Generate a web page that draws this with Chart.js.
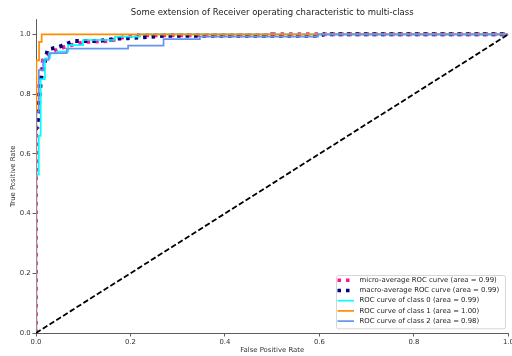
<!DOCTYPE html>
<html>
<head>
<meta charset="utf-8">
<script src="https://cdn.jsdelivr.net/npm/chart.js@4/dist/chart.umd.min.js"></script>
<style>
  html, body { margin: 0; padding: 0; background: #fff; }
  #wrap { width: 512px; height: 356px; position: relative; }
</style>
</head>
<body>
<div id="wrap"><canvas id="roc" width="512" height="356"></canvas></div>
<script>
// ROC curves: false positive rate / true positive rate pairs
const microFpr = [0, 0, 0.003, 0.007, 0.015, 0.03, 0.05, 0.075, 0.107, 0.157, 0.188, 0.213, 0.5, 0.5, 1.0];
const microTpr = [0, 0.69, 0.69, 0.83, 0.914, 0.936, 0.953, 0.964, 0.975, 0.978, 0.992, 0.997, 0.997, 1.0, 1.0];

const macroFpr = [0, 0.005, 0.008, 0.012, 0.017, 0.025, 0.035, 0.052, 0.068, 0.083, 0.135, 0.174, 0.195, 0.27, 0.6, 0.61, 1.0];
const macroTpr = [0.68, 0.724, 0.808, 0.864, 0.897, 0.95, 0.953, 0.96, 0.97, 0.978, 0.978, 0.986, 0.987, 0.995, 0.995, 1.0, 1.0];

const class0Fpr = [0, 0, 0.006, 0.006, 0.01, 0.01, 0.019, 0.019, 0.0296, 0.0296, 0.044, 0.044, 0.068, 0.068, 0.0995, 0.0995, 0.167, 0.167, 0.22, 0.22, 1.0];
const class0Tpr = [0, 0.53, 0.53, 0.66, 0.66, 0.85, 0.85, 0.92, 0.92, 0.936, 0.936, 0.942, 0.942, 0.964, 0.964, 0.981, 0.981, 0.992, 0.992, 1.0, 1.0];

const class1Fpr = [0, 0, 0.0015, 0.0015, 0.0065, 0.0065, 0.012, 0.012, 1.0];
const class1Tpr = [0, 0.72, 0.72, 0.913, 0.913, 0.975, 0.975, 1.0, 1.0];

const class2Fpr = [0, 0, 0.006, 0.006, 0.015, 0.015, 0.027, 0.027, 0.065, 0.065, 0.195, 0.195, 0.27, 0.27, 0.347, 0.347, 0.597, 0.597, 1.0];
const class2Tpr = [0, 0.74, 0.74, 0.88, 0.88, 0.914, 0.914, 0.937, 0.937, 0.952, 0.952, 0.962, 0.962, 0.984, 0.984, 0.992, 0.992, 1.0, 1.0];

const chanceFpr = [0, 1];
const chanceTpr = [0, 1];

const curveNames = ['micro-average ROC curve', 'macro-average ROC curve',
  'ROC curve of class 0', 'ROC curve of class 1', 'ROC curve of class 2'];
const rocAreas = [0.99, 0.99, 0.99, 1.00, 0.98];

const xTicks = [0, 0.2, 0.4, 0.6, 0.8, 1.0];
const yTicks = [0, 0.2, 0.4, 0.6, 0.8, 1.0];

const chartTitle = 'Some extension of Receiver operating characteristic to multi-class';
const FONT = '"DejaVu Sans", "Liberation Sans", sans-serif';
const INK = '#333';
const SMALL = 6.9;

function toPoints(xs, ys) { return xs.map((x, i) => ({ x: x, y: ys[i] })); }

const dotted = { borderWidth: 4, borderDash: [3.5, 5], borderCapStyle: 'butt' };
const solid = { borderWidth: 1.7, borderDash: [] };

const datasets = [
  Object.assign({ label: curveNames[0] + ' (area = ' + rocAreas[0].toFixed(2) + ')', data: toPoints(microFpr, microTpr), borderColor: '#ff1493', order: 5 }, dotted),
  Object.assign({ label: curveNames[1] + ' (area = ' + rocAreas[1].toFixed(2) + ')', data: toPoints(macroFpr, macroTpr), borderColor: '#000080', order: 4 }, dotted),
  Object.assign({ label: curveNames[2] + ' (area = ' + rocAreas[2].toFixed(2) + ')', data: toPoints(class0Fpr, class0Tpr), borderColor: '#00ffff', order: 3 }, solid),
  Object.assign({ label: curveNames[3] + ' (area = ' + rocAreas[3].toFixed(2) + ')', data: toPoints(class1Fpr, class1Tpr), borderColor: '#ff8c00', order: 2 }, solid),
  Object.assign({ label: curveNames[4] + ' (area = ' + rocAreas[4].toFixed(2) + ')', data: toPoints(class2Fpr, class2Tpr), borderColor: '#6495ed', order: 1 }, solid),
  { label: 'chance', data: toPoints(chanceFpr, chanceTpr), borderColor: '#000', borderWidth: 1.8, borderDash: [5.5, 2.5], order: 0, inLegend: false }
];
// curves are cut exactly at the plot edges
datasets.forEach(d => { d.showLine = true; d.fill = false; d.pointRadius = 0; d.tension = 0; d.clip = 0; });

// Title above the plot and a boxed legend in the lower right corner
const decor = {
  id: 'decor',
  afterDraw(chart) {
    const { ctx, chartArea } = chart;
    ctx.save();
    ctx.fillStyle = '#222';
    ctx.font = '8.5px ' + FONT;
    ctx.textAlign = 'center';
    ctx.textBaseline = 'middle';
    ctx.fillText(chartTitle, (chartArea.left + chartArea.right) / 2, 12.7);

    const box = { x: 336, y: 275, w: 169, h: 53.3 };
    ctx.beginPath();
    ctx.roundRect(box.x + 0.5, box.y + 0.5, box.w, box.h, 2);
    ctx.fillStyle = 'rgba(255,255,255,0.8)';
    ctx.fill();
    ctx.strokeStyle = '#cccccc';
    ctx.lineWidth = 0.8;
    ctx.stroke();

    const entries = chart.data.datasets.filter(d => d.inLegend !== false);
    ctx.font = SMALL + 'px ' + FONT;
    ctx.textAlign = 'left';
    entries.forEach((d, i) => {
      const y = 280.3 + i * 10.2;
      ctx.beginPath();
      ctx.setLineDash(d.borderDash || []);
      ctx.lineCap = 'butt';
      ctx.lineWidth = Math.min(d.borderWidth, 3.5);
      ctx.strokeStyle = d.borderColor;
      ctx.moveTo(337.5, y);
      ctx.lineTo(354, y);
      ctx.stroke();
      ctx.setLineDash([]);
      ctx.fillStyle = '#222';
      ctx.fillText(d.label, 359.5, y);
    });
    ctx.restore();
  }
};

new Chart(document.getElementById('roc'), {
  type: 'scatter',
  data: { datasets: datasets },
  plugins: [decor],
  options: {
    responsive: false,
    animation: false,
    devicePixelRatio: 1,
    layout: { padding: { top: 19.4, right: 3.6, left: 0, bottom: 0 } },
    plugins: { legend: { display: false }, title: { display: false }, tooltip: { enabled: false } },
    elements: { point: { radius: 0 }, line: { tension: 0 } },
    scales: {
      x: {
        type: 'linear', min: 0, max: 1,
        afterBuildTicks: s => { s.ticks = xTicks.map(v => ({ value: v })); },
        afterFit: s => { s.height = 23; s.paddingLeft = 0; s.paddingRight = 0; },
        grid: { display: true, drawOnChartArea: false, drawTicks: true, tickLength: 3.5, color: INK, lineWidth: 0.8 },
        border: { display: true, color: INK, width: 0.8 },
        ticks: { padding: 1.2, color: INK, font: { family: FONT, size: SMALL }, maxRotation: 0, autoSkip: false, callback: v => v.toFixed(1) },
        title: { display: true, text: 'False Positive Rate', color: INK, font: { family: FONT, size: SMALL }, padding: { top: 0, bottom: 1.2 } }
      },
      y: {
        type: 'linear', min: 0, max: 1.05,
        afterBuildTicks: s => { s.ticks = yTicks.map(v => ({ value: v })); },
        afterFit: s => { s.width = 36; s.paddingTop = 0; s.paddingBottom = 0; },
        grid: { display: true, drawOnChartArea: false, drawTicks: true, tickLength: 3.5, color: INK, lineWidth: 0.8 },
        border: { display: true, color: INK, width: 0.8 },
        ticks: { padding: 1.8, color: INK, font: { family: FONT, size: SMALL }, autoSkip: false, callback: v => v.toFixed(1) },
        title: { display: true, text: 'True Positive Rate', color: INK, font: { family: FONT, size: SMALL }, padding: { top: 9.0, bottom: 0 } }
      }
    }
  }
});
</script>
</body>
</html>
